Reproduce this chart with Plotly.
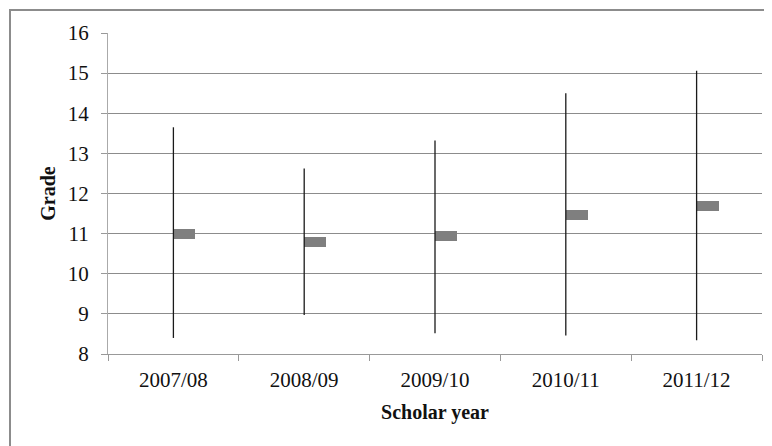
import plotly.graph_objects as go

years = ["2007/08", "2008/09", "2009/10", "2010/11", "2011/12"]
grade_max = [13.65, 12.62, 13.32, 14.50, 15.06]
grade_min = [8.40, 8.97, 8.52, 8.46, 8.34]
grade_mean = [11.00, 10.80, 10.93, 11.47, 11.70]

FONT = "Liberation Serif"

# vertical min-max lines
lx, ly = [], []
for c, lo, hi in zip(years, grade_min, grade_max):
    lx += [c, c, None]
    ly += [lo, hi, None]

half_h = 0.125
fig = go.Figure()
fig.add_trace(go.Scatter(x=lx, y=ly, mode="lines",
                         line=dict(color="#1a1a1a", width=1.3),
                         hoverinfo="skip", showlegend=False))
fig.add_trace(go.Bar(x=years, y=[2 * half_h] * len(years),
                     base=[m - half_h for m in grade_mean],
                     width=0.168, offset=0,
                     marker=dict(color="#7f7f7f", line=dict(width=0)),
                     showlegend=False))

# page body has an 8px margin, so the figure is placed at (8, 8)
W, H = 764, 438
L, R, T, B = 100, 10, 25, 92
pw, ph = W - L - R, H - T - B

fig.add_shape(type="rect", xref="paper", yref="paper",
              x0=(2 - L) / pw, x1=(W + 5 - L) / pw,
              y0=-(B + 10) / ph, y1=1 + (T - 2) / ph,
              line=dict(color="#8c8c8c", width=2), layer="below")

tickfont = dict(family=FONT, size=21, color="#111")
titlefont = dict(family=FONT, size=20, color="#111")

fig.update_layout(
    width=W, height=H,
    margin=dict(l=L, r=R, t=T, b=B, autoexpand=False),
    paper_bgcolor="white", plot_bgcolor="white",
    font=dict(family=FONT, size=20, color="#111"),
    bargap=0,
    xaxis=dict(type="category", range=[-0.5, 4.5], showgrid=False,
               automargin=False,
               showline=True, linecolor="#999", linewidth=1,
               ticks="outside", tickson="boundaries", ticklen=6,
               tickcolor="#999", tickfont=tickfont, ticklabelstandoff=7,
               title=dict(text="<b>Scholar year</b>", font=titlefont, standoff=13)),
    yaxis=dict(range=[8, 16], dtick=1, showgrid=True, gridcolor="#8c8c8c",
               gridwidth=1, zeroline=False, automargin=False,
               showline=True, linecolor="#aaa", linewidth=1,
               ticks="outside", ticklen=6, tickcolor="#999",
               tickfont=tickfont, ticklabelstandoff=8,
               title=dict(text="<b>Grade</b>", font=titlefont, standoff=6)),
)

fig.write_html("out.html")
